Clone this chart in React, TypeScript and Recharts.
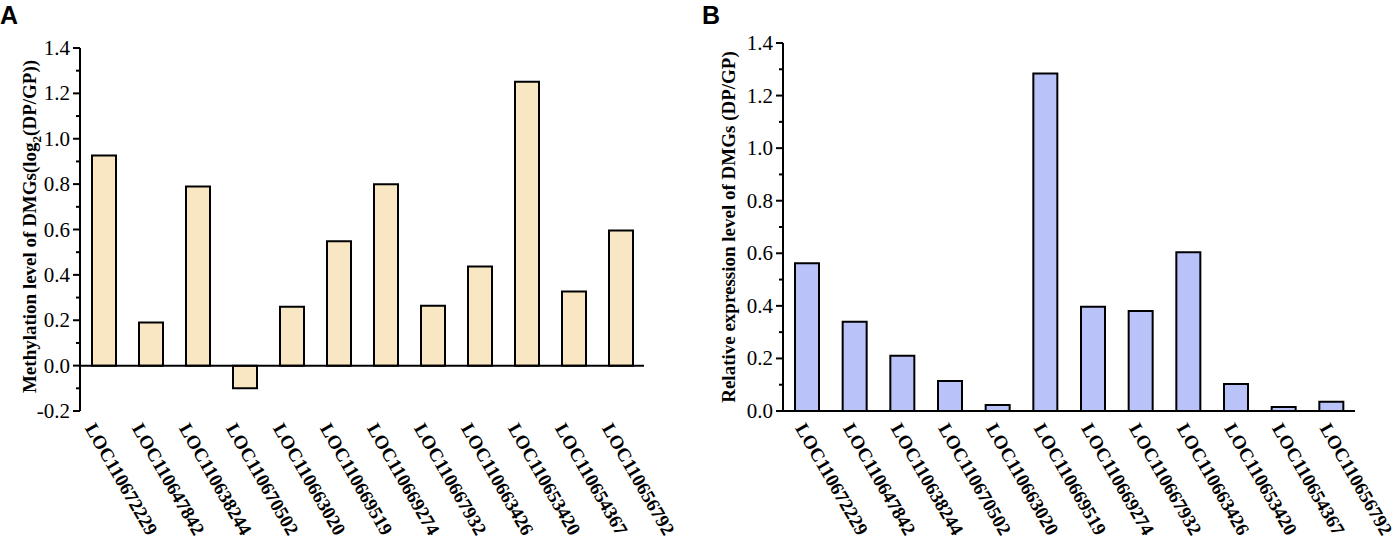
import React from 'react';
import { BarChart, Bar, XAxis, YAxis, ReferenceLine } from 'recharts';

const genes = [
  'LOC110672229',
  'LOC110647842',
  'LOC110638244',
  'LOC110670502',
  'LOC110663020',
  'LOC110669519',
  'LOC110669274',
  'LOC110667932',
  'LOC110663426',
  'LOC110653420',
  'LOC110654367',
  'LOC110656792',
];

const methylation = [0.926, 0.19, 0.79, -0.1, 0.26, 0.548, 0.8, 0.264, 0.437, 1.251, 0.327, 0.596];
const expression = [0.562, 0.34, 0.21, 0.114, 0.023, 1.284, 0.397, 0.38, 0.604, 0.103, 0.015, 0.035];

const majorTicksA = [-0.2, 0, 0.2, 0.4, 0.6, 0.8, 1.0, 1.2, 1.4];
const minorTicksA = [-0.1, 0.1, 0.3, 0.5, 0.7, 0.9, 1.1, 1.3];
const majorTicksB = [0, 0.2, 0.4, 0.6, 0.8, 1.0, 1.2, 1.4];
const minorTicksB = [0.1, 0.3, 0.5, 0.7, 0.9, 1.1, 1.3];

const dataA = genes.map((name, i) => ({ name, value: methylation[i] }));
const dataB = genes.map((name, i) => ({ name, value: expression[i] }));

const SERIF = "'Liberation Serif', 'Times New Roman', serif";

const YTick = ({ x, y, payload, majors }: any) => {
  const isMajor = majors.some((m: number) => Math.abs(m - payload.value) < 1e-6);
  return (
    <g>
      <line x1={x - (isMajor ? 7 : 4)} x2={x} y1={y} y2={y} stroke="#000" strokeWidth={2} />
      {isMajor && (
        <text x={x - 10} y={y} dy={7} textAnchor="end" fontSize={21} fontFamily={SERIF} fill="#000">
          {payload.value.toFixed(1)}
        </text>
      )}
    </g>
  );
};

const XTick = ({ x, y, payload, ox, oy }: any) => {
  const tx = x + ox;
  const ty = y + oy;
  return (
    <text
      x={tx}
      y={ty}
      transform={`rotate(60, ${tx}, ${ty})`}
      textAnchor="start"
      fontSize={19}
      fontWeight="bold"
      fontFamily={SERIF}
      fill="#000"
    >
      {payload.value}
    </text>
  );
};

const TitleA = ({ viewBox }: any) => {
  const cx = 30;
  const cy = viewBox.y + viewBox.height / 2 - 3;
  return (
    <text
      x={cx}
      y={cy}
      transform={`rotate(-90, ${cx}, ${cy})`}
      textAnchor="middle"
      dy={6}
      fontSize={19}
      fontWeight="bold"
      fontFamily={SERIF}
      fill="#000"
    >
      Methylation level of DMGs(log
      <tspan fontSize={13} dy={5}>2</tspan>
      <tspan dy={-5}>(DP/GP))</tspan>
    </text>
  );
};

const TitleB = ({ viewBox }: any) => {
  const cx = 29;
  const cy = viewBox.y + viewBox.height / 2;
  return (
    <text
      x={cx}
      y={cy}
      transform={`rotate(-90, ${cx}, ${cy})`}
      textAnchor="middle"
      dy={6}
      fontSize={19}
      fontWeight="bold"
      fontFamily={SERIF}
      fill="#000"
    >
      Relative expression level of DMGs (DP/GP)
    </text>
  );
};

const PanelLetter = ({ letter, left }: { letter: string; left: number }) => (
  <div
    style={{
      position: 'absolute',
      left,
      top: 0,
      fontFamily: "'Liberation Sans', Arial, sans-serif",
      fontWeight: 'bold',
      fontSize: 25,
      lineHeight: '30px',
    }}
  >
    {letter}
  </div>
);

export default function App() {
  const ticksA = [...majorTicksA, ...minorTicksA].sort((a, b) => a - b);
  const ticksB = [...majorTicksB, ...minorTicksB].sort((a, b) => a - b);

  return (
    <div style={{ position: 'absolute', left: 0, top: 0, width: 1399, height: 542, background: '#fff', fontFamily: SERIF }}>
      <PanelLetter letter="A" left={0} />
      <PanelLetter letter="B" left={702} />

      <div style={{ position: 'absolute', left: 0, top: 0 }}>
        <BarChart width={690} height={542} data={dataA} margin={{ top: 48, right: 46, bottom: 0, left: 0 }} barSize={24}>
          <XAxis
            dataKey="name"
            axisLine={false}
            tickLine={false}
            tickSize={0}
            tickMargin={0}
            height={131}
            interval={0}
            tick={(p: any) => <XTick {...p} ox={-19} oy={17} />}
          />
          <YAxis
            domain={[-0.2, 1.4]}
            ticks={ticksA}
            interval={0}
            width={80}
            tickSize={0}
            tickMargin={0}
            tickLine={false}
            axisLine={{ stroke: '#000', strokeWidth: 2 }}
            tick={(p: any) => <YTick {...p} majors={majorTicksA} />}
            label={{ content: (p: any) => <TitleA {...p} /> }}
          />
          <Bar dataKey="value" fill="#F9E7C3" stroke="#000" strokeWidth={2} isAnimationActive={false} />
          <ReferenceLine y={0} stroke="#000" strokeWidth={2} />
        </BarChart>
      </div>

      <div style={{ position: 'absolute', left: 700, top: 0 }}>
        <BarChart width={699} height={542} data={dataB} margin={{ top: 43, right: 44, bottom: 0, left: 0 }} barSize={24}>
          <XAxis
            dataKey="name"
            axisLine={{ stroke: '#000', strokeWidth: 2 }}
            tickLine={false}
            tickSize={0}
            tickMargin={0}
            height={131}
            interval={0}
            tick={(p: any) => <XTick {...p} ox={-12} oy={17} />}
          />
          <YAxis
            domain={[0, 1.4]}
            ticks={ticksB}
            interval={0}
            width={83}
            tickSize={0}
            tickMargin={0}
            tickLine={false}
            axisLine={{ stroke: '#000', strokeWidth: 2 }}
            tick={(p: any) => <YTick {...p} majors={majorTicksB} />}
            label={{ content: (p: any) => <TitleB {...p} /> }}
          />
          <Bar dataKey="value" fill="#B9C3FA" stroke="#000" strokeWidth={2} isAnimationActive={false} />
        </BarChart>
      </div>
    </div>
  );
}
